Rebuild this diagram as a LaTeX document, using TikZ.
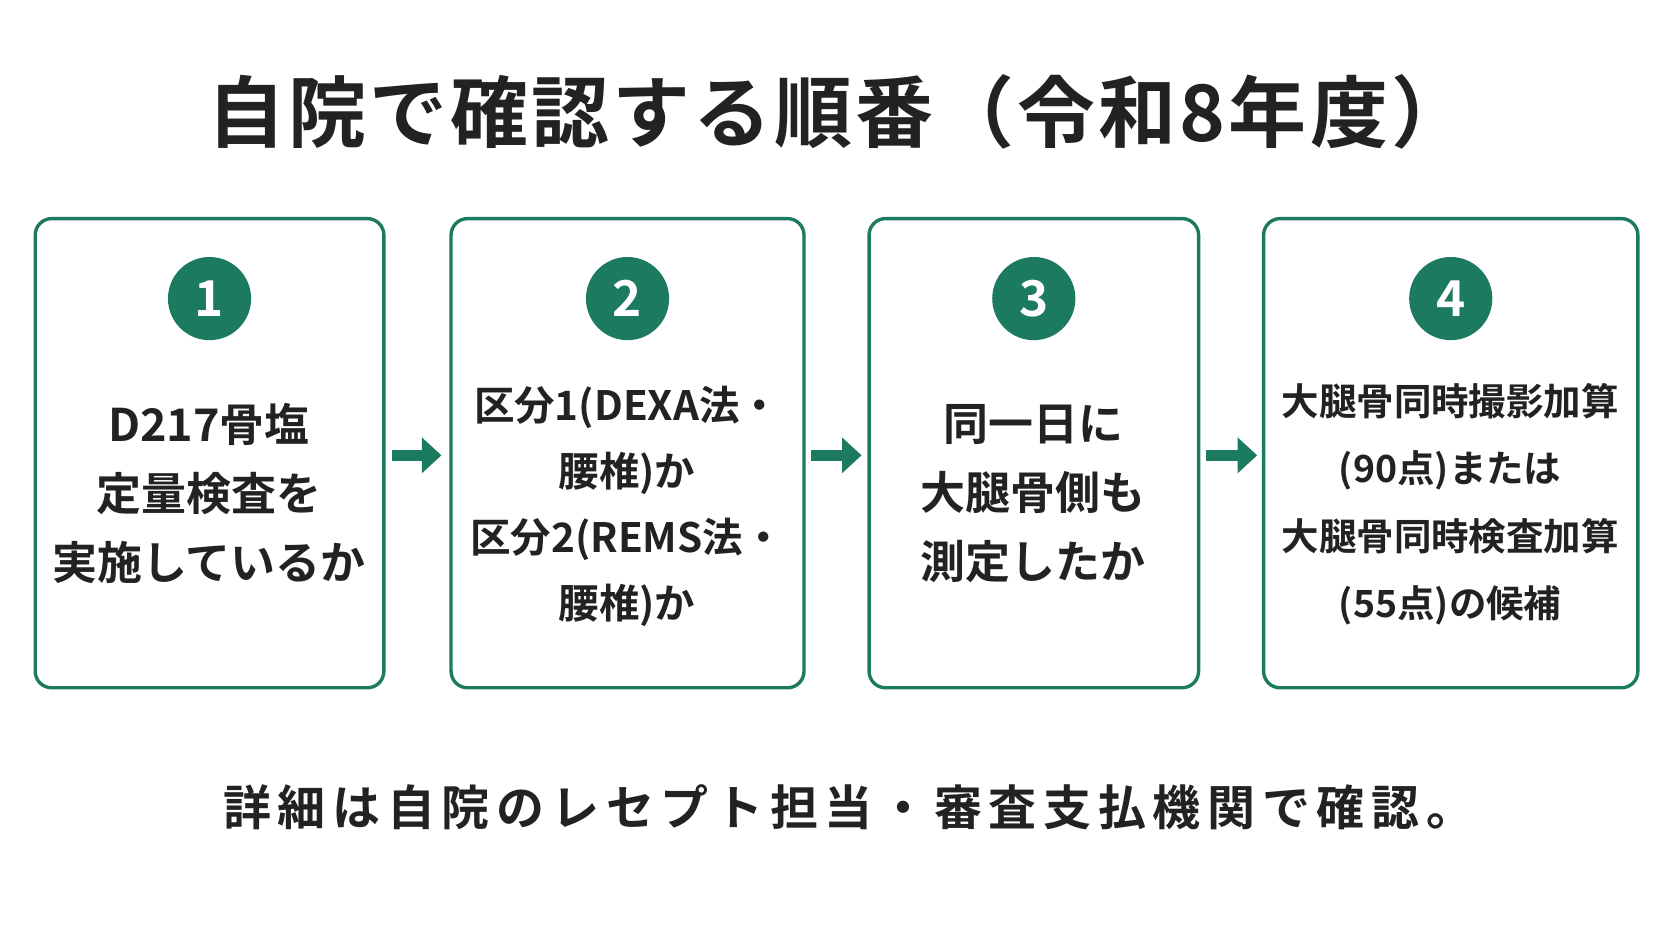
\documentclass[tikz,border=0pt]{standalone}
\usepackage{fontspec}
\setmainfont{Noto Sans CJK JP}[BoldFont={* Bold}]
\usetikzlibrary{arrows.meta}
\definecolor{grn}{HTML}{1B7A60}
\definecolor{txt}{HTML}{222222}
\begin{document}
\begin{tikzpicture}[x=0.05cm,y=-0.05cm,
 box/.style={draw=grn,line width=4.5pt,rounded corners=22pt,fill=white},
 num/.style={circle,fill=grn,minimum size=78*0.05cm,inner sep=0,text=white,font=\fontsize{66}{66}\selectfont\bfseries},
 body/.style={align=center,text=txt,font=\fontsize{60}{92}\selectfont\bfseries},
 arr/.style={-{Triangle[length=26pt,width=46pt]},line width=15pt,draw=grn}]
\useasboundingbox (0,0) rectangle (1568,882);
\fill[white] (0,0) rectangle (1568,882);
\node[text=txt,font=\fontsize{104}{104}\selectfont\bfseries\addfontfeature{LetterSpace=4}] (title) at (786,105) {自院で確認する順番（令和8年度）};
\foreach \n/\a/\b in {1/33/360,2/423/754,3/815/1124,4/1185/1536}{
 \draw[box] (\a,205) rectangle (\b,645);
 \node[num] (c\n) at ({(\a+\b)/2},280) {\n};
}
\node[body] (t1) at (196,463) {D217骨塩\\定量検査を\\実施しているか};
\node[body,font=\fontsize{54}{88}\selectfont\bfseries] (t2) at (588,475) {区分1(DEXA法・\\腰椎)か\\区分2(REMS法・\\腰椎)か};
\node[body] (t3) at (969,463) {同一日に\\大腿骨側も\\測定したか};
\node[body,font=\fontsize{50}{90}\selectfont\bfseries] (t4) at (1360,473) {大腿骨同時撮影加算\\(90点)または\\大腿骨同時検査加算\\(55点)の候補};
\coordinate (a1s) at (368,427); \coordinate (a1e) at (414,427);
\coordinate (a2s) at (761,427); \coordinate (a2e) at (808,427);
\coordinate (a3s) at (1131,427); \coordinate (a3e) at (1179,427);
\draw[arr] (a1s)--(a1e); \draw[arr] (a2s)--(a2e); \draw[arr] (a3s)--(a3e);
\node[text=txt,font=\fontsize{64}{64}\selectfont\bfseries\addfontfeature{LetterSpace=14}] (foot) at (796,757) {詳細は自院のレセプト担当・審査支払機関で確認。};
\end{tikzpicture}
\end{document}
